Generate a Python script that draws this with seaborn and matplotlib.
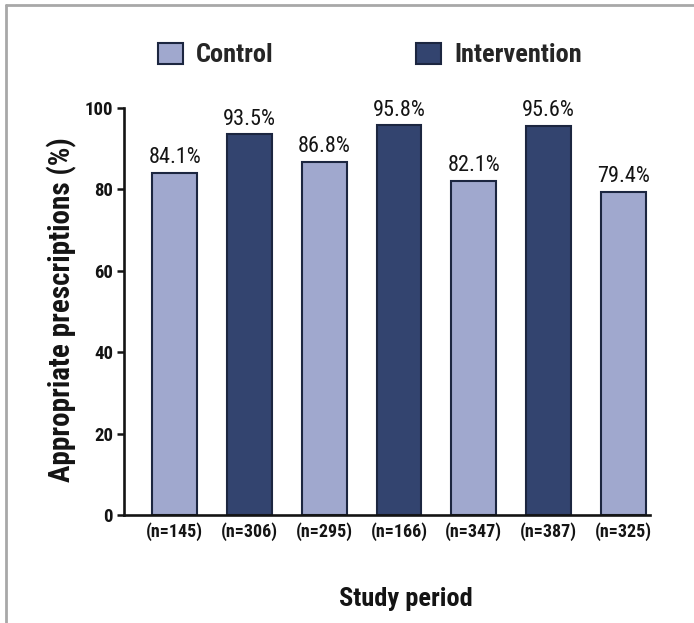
import matplotlib
matplotlib.use("Agg")
import matplotlib.pyplot as plt
from matplotlib.lines import Line2D
from matplotlib.patches import Patch
import seaborn as sns
import pandas as pd

# Study data
periods = ["P1", "P2", "P3", "P4", "P5", "P6", "P7"]
groups = ["Control", "Intervention", "Control", "Intervention", "Control", "Intervention", "Control"]
appropriate_pct = [84.1, 93.5, 86.8, 95.8, 82.1, 95.6, 79.4]
sample_sizes = [145, 306, 295, 166, 347, 387, 325]
y_ticks = [0, 20, 40, 60, 80, 100]

df = pd.DataFrame({"period": periods, "group": groups, "pct": appropriate_pct})

sns.set_theme(style="white")
font_family = ["Roboto Condensed", "DejaVu Sans"]
plt.rcParams["font.family"] = font_family
plt.rcParams["font.weight"] = "bold"

light = "#A0A8CE"
dark = "#33446F"
edge = "#1C2640"
ink = "#141414"
palette = {"Control": light, "Intervention": dark}

fig = plt.figure(figsize=(6.94, 6.23), dpi=100)
ax = fig.add_axes([0.1787, 0.1734, 0.7579, 0.6532])

sns.barplot(data=df, x="period", y="pct", hue="group", palette=palette,
            dodge=False, width=0.6, saturation=1, edgecolor=edge, linewidth=1.5,
            legend=False, ax=ax)

ax.set_ylim(0, 100)
ax.set_xlim(-0.68, 6.36)
ax.set_yticks(y_ticks)
ax.set_yticklabels([str(t) for t in y_ticks], fontsize=13.5, fontweight="bold", color=ink)
ax.set_xticks(range(len(periods)))
ax.set_xticklabels([f"(n={n})" for n in sample_sizes], fontsize=13,
                   fontweight="bold", color=ink)
ax.tick_params(axis="x", length=0, pad=5)
ax.tick_params(axis="y", length=5, width=1.8, left=True, color=ink, pad=3)

for s in ["top", "right"]:
    ax.spines[s].set_visible(False)
for s in ["left", "bottom"]:
    ax.spines[s].set_color(ink)
    ax.spines[s].set_linewidth(1.9)

# Value labels above each bar
for i, v in enumerate(appropriate_pct):
    ax.text(i, v + 1.1, f"{v}%", ha="center", va="bottom", fontsize=16,
            fontweight="normal", color=ink, clip_on=False)

ax.set_ylabel("Appropriate prescriptions (%)", fontsize=21, fontweight="bold", color=ink)
ax.yaxis.set_label_coords(-0.089, 0.504)
ax.set_xlabel("Study period", fontsize=19, fontweight="bold", color=ink)
ax.xaxis.set_label_coords(0.535, -0.176)

handles = [Patch(facecolor=light, edgecolor=edge, linewidth=1.5, label="Control"),
           Patch(facecolor=dark, edgecolor=edge, linewidth=1.5, label="Intervention")]
fig.legend(handles=handles, loc="center left", bbox_to_anchor=(158 / 694, 1 - 55 / 623),
           ncol=2, frameon=False, handlelength=0.95, handleheight=0.85,
           handletextpad=0.5, columnspacing=5.4, borderpad=0, borderaxespad=0,
           prop={"family": font_family, "weight": "bold", "size": 19})

# Outer frame lines
frame_color = "#A8A8A8"
fig.add_artist(Line2D([0.008, 1.0], [0.992, 0.992], transform=fig.transFigure,
                      color=frame_color, linewidth=2))
fig.add_artist(Line2D([0.008, 0.008], [0.0, 0.992], transform=fig.transFigure,
                      color=frame_color, linewidth=2))

fig.savefig("out.png", dpi=100)
